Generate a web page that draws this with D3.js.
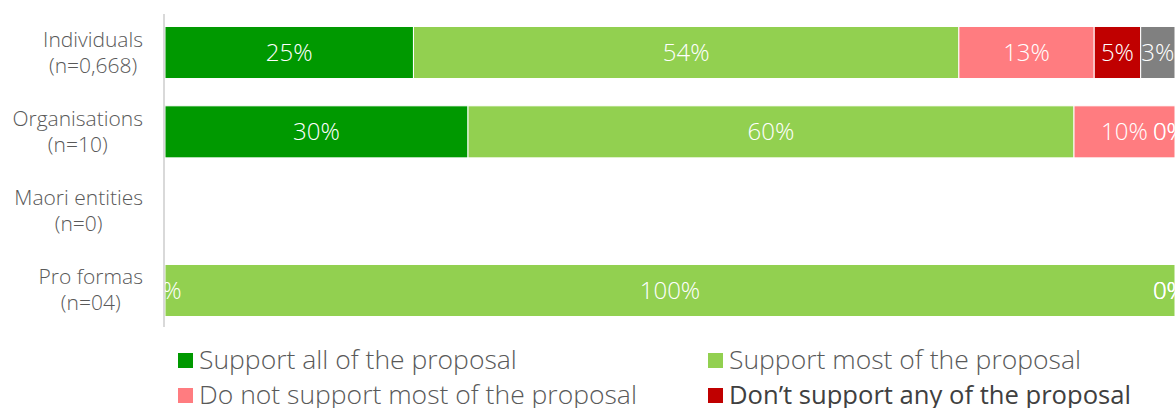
<html lang="en">
<head>
<meta charset="UTF-8">
<title>Support for the proposal</title>
<style>
  body { margin: 0; background: #fff; }
  text { font-family: "Open Sans", sans-serif; font-weight: 300; }
</style>
</head>
<body>
<script src="https://d3js.org/d3.v7.min.js"></script>
<div id="chart"></div>
<script>
// data
var categories = ["Individuals", "Organisations", "Maori entities", "Pro formas"];
var counts = ["(n=0,668)", "(n=10)", "(n=0)", "(n=04)"];
var seriesNames = [
  "Support all of the proposal",
  "Support most of the proposal",
  "Do not support most of the proposal",
  "Don\u2019t support any of the proposal",
  "Other"
];
var supportAll  = [24.6, 30, 0, 0];
var supportMost = [54.0, 60, 0, 100];
var notMost     = [13.4, 10, 0, 0];
var notAny      = [4.6, 0, 0, 0];
var other       = [3.4, 0, 0, 0];

var colors = ["#009900", "#92D050", "#FF7C80", "#C00000", "#808080"];

var width = 1176, height = 408;

var svg = d3.select("#chart").append("svg")
  .attr("width", width)
  .attr("height", height);

var table = categories.map(function(c, i) {
  return { cat: c, vals: [supportAll[i], supportMost[i], notMost[i], notAny[i], other[i]] };
});

var x = d3.scaleLinear().domain([0, 100]).range([165, 1175]);
var y = d3.scaleBand().domain(categories).range([13, 330])
  .paddingInner(0.344).paddingOuter(0.17);

// stacked segments
var rows = svg.selectAll("g.row")
  .data(table)
  .enter().append("g")
  .attr("class", "row");

rows.each(function(d) {
  var g = d3.select(this);
  var acc = 0;
  var segs = d.vals.map(function(v, k) {
    var s = { x0: acc, x1: acc + v, v: v, k: k };
    acc += v;
    return s;
  });
  g.selectAll("rect")
    .data(segs.filter(function(s) { return s.v > 0; }))
    .enter().append("rect")
    .attr("x", function(s) { return x(s.x0); })
    .attr("width", function(s) { return x(s.x1) - x(s.x0); })
    .attr("y", y(d.cat))
    .attr("height", y.bandwidth())
    .attr("fill", function(s) { return colors[s.k]; })
    .attr("stroke", "#fff")
    .attr("stroke-width", 1);
  g.selectAll("text")
    .data(segs)
    .enter().append("text")
    .attr("y", y(d.cat) + y.bandwidth() / 2 + 8.5)
    .attr("text-anchor", "middle")
    .attr("fill", "#fff")
    .style("font-size", "24px")
    .text(function(s) { return Math.round(s.v) + "%"; })
    .attr("x", function(s) {
      // keep labels from running far past the plot edge
      var cx = (x(s.x0) + x(s.x1)) / 2;
      var w = this.getComputedTextLength();
      return Math.min(cx, x(100) + 11 - w / 2);
    });
});

// axis line
svg.append("line")
  .attr("x1", 164).attr("x2", 164)
  .attr("y1", 14).attr("y2", 327)
  .attr("stroke", "#d9d9d9")
  .attr("stroke-width", 2);

// category labels: block right-aligned, lines centred within block
svg.selectAll("g.cat")
  .data(categories)
  .enter().append("g")
  .attr("class", "cat")
  .each(function(d, i) {
    var g = d3.select(this);
    var cy = y(d) + y.bandwidth() / 2;
    var t1 = g.append("text").attr("y", cy - 6).text(d);
    var t2 = g.append("text").attr("y", cy + 20).text(counts[i]);
    g.selectAll("text")
      .attr("fill", "#595959")
      .attr("text-anchor", "middle")
      .style("font-size", "21px");
    var w = Math.max(t1.node().getComputedTextLength(), t2.node().getComputedTextLength());
    g.selectAll("text").attr("x", 143 - w / 2);
  });

// legend
var legend = svg.selectAll("g.legend")
  .data(seriesNames)
  .enter().append("g")
  .attr("class", "legend")
  .attr("transform", function(d, i) {
    return "translate(" + (178 + (i % 2) * 530) + "," + (353 + Math.floor(i / 2) * 35) + ")";
  });
legend.append("rect")
  .attr("width", 15).attr("height", 15)
  .attr("fill", function(d, i) { return colors[i]; });
legend.append("text")
  .attr("x", 21)
  .attr("y", 16)
  .attr("fill", function(d, i) { return i === 3 ? "#404040" : "#595959"; })
  .style("font-size", function(d, i) { return i === 3 ? "25.6px" : "26.5px"; })
  .style("font-weight", function(d, i) { return i === 3 ? 400 : 300; })
  .text(function(d) { return d; });
</script>
</body>
</html>
